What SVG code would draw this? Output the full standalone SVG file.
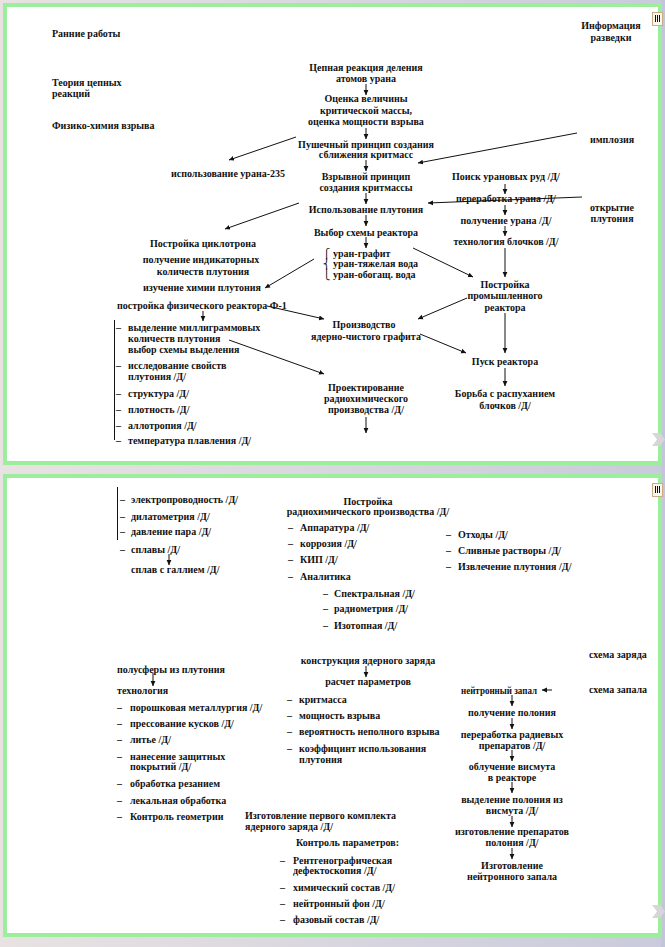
<svg xmlns="http://www.w3.org/2000/svg" width="665" height="947" viewBox="0 0 665 947">
<defs>
<linearGradient id="bg" x1="0" y1="0" x2="1" y2="0">
<stop offset="0" stop-color="#e8e2e2"/>
<stop offset="1" stop-color="#c9cadc"/>
</linearGradient>
<marker id="ah" markerWidth="6" markerHeight="6" refX="5" refY="3" orient="auto" markerUnits="userSpaceOnUse">
<path d="M0,0.6 L5.2,3 L0,5.4 z" fill="#111"/>
</marker>
<style>
text{font-family:"Liberation Serif","Times New Roman",serif;font-size:10px;font-weight:bold;fill:#111}
.c{text-anchor:middle}
.br{font-family:"DejaVu Serif",serif;font-weight:normal}
.ln{stroke:#111;stroke-width:1;fill:none}
.ar{stroke:#111;stroke-width:1;fill:none;marker-end:url(#ah)}
.page{fill:#fff;stroke:#9ced9c;stroke-width:4}
.chev{fill:#d6d6d6}
.ico{fill:#faf6ee;stroke:#c9ac86;stroke-width:1}
</style>
</defs>
<rect x="0" y="0" width="665" height="947" fill="url(#bg)"/>
<rect x="661" y="0" width="4" height="947" fill="#c3c6da"/>
<g id="pages">
<rect class="page" x="5" y="5" width="655" height="458"/>
<rect class="page" x="5" y="476" width="655" height="459"/>
<rect class="ico" x="652.5" y="12.5" width="10" height="13"/>
<path class="ln" d="M655.5 15v7M657.5 15v7M659.5 15v7" stroke="#c9ac86"/>
<rect class="ico" x="652.5" y="483.5" width="10" height="13"/>
<path class="ln" d="M655.5 486v7M657.5 486v7M659.5 486v7" stroke="#c9ac86"/>
<polygon class="chev" points="652,433 660,433 665,439.5 660,446 652,446 657,439.5"/>
<polygon class="chev" points="652,905 660,905 665,911.5 660,918 652,918 657,911.5"/>
</g>

<g id="connectors">
<path class="ar" d="M366 84V95"/>
<path class="ar" d="M366 128V139"/>
<path class="ar" d="M366 160V171"/>
<path class="ar" d="M366 193V204"/>
<path class="ar" d="M366 215V226"/>
<path class="ar" d="M366 237V248"/>
<path class="ar" d="M296 137L229 160"/>
<path class="ar" d="M577 133L418 163"/>
<path class="ar" d="M582 197L428 203"/>
<path class="ar" d="M299 203L225 229"/>
<path class="ar" d="M505 184V194"/>
<path class="ar" d="M505 205V215"/>
<path class="ar" d="M505 226V236"/>
<path class="ar" d="M505 248V277"/>
<path class="ar" d="M413 248L473 277"/>
<path class="ar" d="M314 259L265 288"/>
<path class="ar" d="M467 298L418 319"/>
<path class="ar" d="M267 306L324 319"/>
<path class="ar" d="M203 311V321"/>
<path class="ar" d="M229 340L324 374"/>
<path class="ar" d="M420 334L466 353"/>
<path class="ar" d="M505 313V353"/>
<path class="ar" d="M505 368V386"/>
<path class="ar" d="M366 417V433"/>
<path class="ln" d="M114.5 320V440"/>
<path class="ln" d="M117.5 487V540"/>
<path class="ar" d="M169 554V565"/>
<path class="ar" d="M366 666V677"/>
<path class="ar" d="M153 673V686"/>
<path class="ar" d="M552 690H542"/>
<path class="ar" d="M512 695V706"/>
<path class="ar" d="M512 718V729"/>
<path class="ar" d="M512 750V761"/>
<path class="ar" d="M512 782V793"/>
<path class="ar" d="M512 816V827"/>
<path class="ar" d="M512 848V859"/>
</g>

<g id="n-rannie"><text x="52" y="37">Ранние работы</text></g>
<g id="n-razvedka"><text class="c" x="611" y="29">Информация</text><text class="c" x="611" y="41">разведки</text></g>
<g id="n-teoria"><text x="52" y="86">Теория цепных</text><text x="52" y="97">реакций</text></g>
<g id="n-fizhim"><text x="52" y="129">Физико-химия взрыва</text></g>
<g id="n-cepnaya"><text class="c" x="366" y="71">Цепная реакция деления</text><text class="c" x="366" y="82">атомов урана</text></g>
<g id="n-ocenka"><text class="c" x="366" y="102">Оценка величины</text><text class="c" x="366" y="114">критической массы,</text><text class="c" x="366" y="125">оценка мощности взрыва</text></g>
<g id="n-pushka"><text class="c" x="366" y="148">Пушечный принцип создания</text><text class="c" x="366" y="158">сближения критмасс</text></g>
<g id="n-implozia"><text x="590" y="143">имплозия</text></g>
<g id="n-u235"><text class="c" x="228" y="177">использование урана-235</text></g>
<g id="n-vzryv"><text class="c" x="366" y="180">Взрывной принцип</text><text class="c" x="366" y="191">создания критмассы</text></g>
<g id="n-pu"><text class="c" x="366" y="213">Использование плутония</text></g>
<g id="n-vybor"><text class="c" x="366" y="236">Выбор схемы реактора</text></g>
<g id="n-uran-var">
<text class="br" x="323" y="257">⎧</text><text class="br" x="323" y="267">⎨</text><text class="br" x="323" y="278">⎩</text>
<text x="333" y="257">уран-графит</text><text x="333" y="267">уран-тяжелая вода</text><text x="333" y="278">уран-обогащ. вода</text>
</g>
<g id="n-poisk"><text class="c" x="506" y="180">Поиск урановых руд /Д/</text></g>
<g id="n-pererab"><text class="c" x="506" y="202">переработка урана /Д/</text></g>
<g id="n-otkrytie"><text class="c" x="612" y="211">открытие</text><text class="c" x="612" y="222">плутония</text></g>
<g id="n-poluch-u"><text class="c" x="506" y="224">получение урана /Д/</text></g>
<g id="n-tech-bl"><text class="c" x="506" y="245">технология блочков /Д/</text></g>
<g id="n-ciklotron"><text class="c" x="203" y="247">Постройка циклотрона</text></g>
<g id="n-indik"><text class="c" x="201" y="263">получение индикаторных</text><text class="c" x="203" y="275">количеств плутония</text></g>
<g id="n-himia"><text class="c" x="202" y="291">изучение химии плутония</text></g>
<g id="n-prom"><text class="c" x="505" y="288">Постройка</text><text class="c" x="505" y="299">промышленного</text><text class="c" x="505" y="311">реактора</text></g>
<g id="n-f1"><text x="117" y="309">постройка физического реактора Ф-1</text></g>
<g id="n-grafit"><text class="c" x="364" y="328">Производство</text><text class="c" x="366" y="340">ядерно-чистого графита</text></g>
<g id="n-pusk"><text class="c" x="505" y="365">Пуск реактора</text></g>
<g id="n-borba"><text class="c" x="505" y="397">Борьба с распуханием</text><text class="c" x="505" y="409">блочков /Д/</text></g>
<g id="n-proekt"><text class="c" x="366" y="391">Проектирование</text><text class="c" x="366" y="402">радиохимического</text><text class="c" x="366" y="413">производства /Д/</text></g>
<g id="n-svoistva">
<text x="116" y="331">–</text><text x="128" y="331">выделение миллиграммовых</text>
<text x="128" y="342">количеств плутония</text>
<text x="128" y="353">выбор схемы выделения</text>
<text x="116" y="369">–</text><text x="128" y="369">исследование свойств</text>
<text x="128" y="380">плутония /Д/</text>
<text x="116" y="397">–</text><text x="128" y="397">структура /Д/</text>
<text x="116" y="413">–</text><text x="128" y="413">плотность /Д/</text>
<text x="116" y="429">–</text><text x="128" y="429">аллотропия /Д/</text>
<text x="116" y="444">–</text><text x="128" y="444">температура плавления /Д/</text>
</g>

<g id="n-svoistva2">
<text x="120" y="503">–</text><text x="131" y="503">электропроводность /Д/</text>
<text x="120" y="520">–</text><text x="131" y="520">дилатометрия /Д/</text>
<text x="120" y="535">–</text><text x="131" y="535">давление пара /Д/</text>
<text x="120" y="553">–</text><text x="131" y="553">сплавы /Д/</text>
</g>
<g id="n-gallij"><text x="131" y="573">сплав с галлием /Д/</text></g>
<g id="n-radiohim"><text class="c" x="368" y="505">Постройка</text><text class="c" x="368" y="515">радиохимического производства /Д/</text>
<text x="288" y="531">–</text><text x="300" y="531">Аппаратура /Д/</text>
<text x="288" y="547">–</text><text x="300" y="547">коррозия /Д/</text>
<text x="288" y="563">–</text><text x="300" y="563">КИП /Д/</text>
<text x="288" y="580">–</text><text x="300" y="580">Аналитика</text>
<text x="323" y="597">–</text><text x="334" y="597">Спектральная /Д/</text>
<text x="323" y="612">–</text><text x="334" y="612">радиометрия /Д/</text>
<text x="323" y="629">–</text><text x="334" y="629">Изотопная /Д/</text>
</g>
<g id="n-othody">
<text x="446" y="538">–</text><text x="458" y="538">Отходы /Д/</text>
<text x="446" y="554">–</text><text x="458" y="554">Сливные растворы /Д/</text>
<text x="446" y="570">–</text><text x="458" y="570">Извлечение плутония /Д/</text>
</g>
<g id="n-shema-zar"><text x="589" y="658">схема заряда</text></g>
<g id="n-shema-zap"><text x="589" y="693">схема запала</text></g>
<g id="n-konstr"><text class="c" x="368" y="664">конструкция ядерного заряда</text></g>
<g id="n-raschet"><text class="c" x="368" y="685">расчет параметров</text>
<text x="287" y="703">–</text><text x="299" y="703">критмасса</text>
<text x="287" y="719">–</text><text x="299" y="719">мощность взрыва</text>
<text x="287" y="735">–</text><text x="299" y="735">вероятность неполного взрыва</text>
<text x="287" y="752">–</text><text x="299" y="752">коэффицинт использования</text>
<text x="299" y="763">плутония</text>
</g>
<g id="n-polusf"><text x="117" y="673">полусферы из плутония</text></g>
<g id="n-tehnol"><text x="117" y="694">технология</text>
<text x="117" y="711">–</text><text x="130" y="711">порошковая металлургия /Д/</text>
<text x="117" y="727">–</text><text x="130" y="727">прессование кусков /Д/</text>
<text x="117" y="743">–</text><text x="130" y="743">литье /Д/</text>
<text x="117" y="760">–</text><text x="130" y="760">нанесение защитных</text>
<text x="130" y="770">покрытий /Д/</text>
<text x="117" y="787">–</text><text x="130" y="787">обработка резанием</text>
<text x="117" y="804">–</text><text x="130" y="804">лекальная обработка</text>
<text x="117" y="820">–</text><text x="130" y="820">Контроль геометрии</text>
</g>
<g id="n-komplekt"><text x="245" y="819">Изготовление первого комплекта</text><text x="245" y="830">ядерного заряда /Д/</text></g>
<g id="n-kontrol"><text x="296" y="846">Контроль параметров:</text>
<text x="280" y="864">–</text><text x="293" y="864">Рентгенографическая</text>
<text x="293" y="874">дефектоскопия /Д/</text>
<text x="280" y="891">–</text><text x="293" y="891">химический состав /Д/</text>
<text x="280" y="907">–</text><text x="293" y="907">нейтронный фон /Д/</text>
<text x="280" y="923">–</text><text x="293" y="923">фазовый состав /Д/</text>
</g>
<g id="n-zapal"><text x="461" y="694" textLength="76" lengthAdjust="spacingAndGlyphs">нейтронный запал</text></g>
<g id="n-polonij"><text class="c" x="512" y="716">получение полония</text></g>
<g id="n-radiev"><text class="c" x="512" y="738">переработка радиевых</text><text class="c" x="512" y="749">препаратов /Д/</text></g>
<g id="n-vismut"><text class="c" x="512" y="770">облучение висмута</text><text class="c" x="512" y="781">в реакторе</text></g>
<g id="n-vydel"><text class="c" x="512" y="803">выделение полония из</text><text class="c" x="512" y="814">висмута /Д/</text></g>
<g id="n-prep"><text class="c" x="512" y="835">изготовление препаратов</text><text class="c" x="512" y="846">полония /Д/</text></g>
<g id="n-izg-zapal"><text class="c" x="512" y="869">Изготовление</text><text class="c" x="512" y="880">нейтронного запала</text></g>
</svg>
